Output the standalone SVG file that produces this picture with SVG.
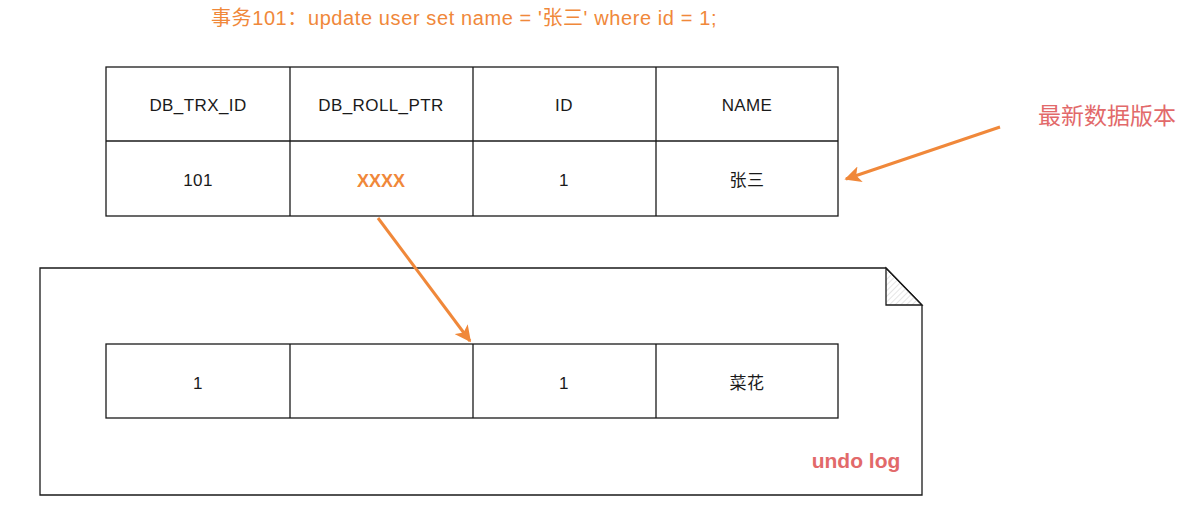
<svg xmlns="http://www.w3.org/2000/svg" width="1198" height="508" viewBox="0 0 1198 508">
<style>
.cell{fill:#fff;stroke:#1a1a1a;stroke-width:1.3}
.ln{stroke:#1a1a1a;stroke-width:1.3;fill:none}
.t{font-family:"Liberation Sans","Noto Sans CJK SC",sans-serif;font-size:17px;fill:#1a1a1a;text-anchor:middle;dominant-baseline:central;letter-spacing:0.4px}
.or{font-family:"Liberation Sans","Noto Sans CJK SC",sans-serif;fill:#f0883a}
.red{font-family:"Liberation Sans","Noto Sans CJK SC",sans-serif;fill:#e2696a}
.arr{stroke:#f0883a;stroke-width:3;fill:none}
</style>
<defs>
<marker id="ah" viewBox="0 0 10 10" refX="9" refY="5" markerWidth="5.5" markerHeight="5.5" orient="auto" markerUnits="strokeWidth">
<path d="M0,0 L10,5 L0,10 L2.5,5 Z" fill="#f0883a"/>
</marker>
<pattern id="hatch" width="4" height="4" patternUnits="userSpaceOnUse" patternTransform="rotate(45)">
<line x1="0" y1="0" x2="0" y2="4" stroke="#ccc" stroke-width="1"/>
</pattern>
</defs>
<g id="title">
<text class="or" x="464" y="25" font-size="20" letter-spacing="0.6" text-anchor="middle">事务101：update user set name = '张三' where id = 1;</text>
</g>
<g id="undo-log">
<path class="cell" d="M40,268 L886,268 L922,305 L922,495 L40,495 Z"/>
<path d="M886,268 L886,305 L922,305 Z" fill="url(#hatch)" stroke="#1a1a1a" stroke-width="1.3"/>
<text class="red" x="856" y="468" font-size="21" font-weight="bold" text-anchor="middle">undo log</text>
</g>
<g id="current-row">
<rect class="cell" x="106" y="67" width="732" height="149"/>
<line class="ln" x1="106" y1="141" x2="838" y2="141"/>
<line class="ln" x1="290" y1="67" x2="290" y2="216"/>
<line class="ln" x1="473" y1="67" x2="473" y2="216"/>
<line class="ln" x1="656" y1="67" x2="656" y2="216"/>
<text class="t" x="198" y="105">DB_TRX_ID</text>
<text class="t" x="381" y="105">DB_ROLL_PTR</text>
<text class="t" x="564" y="105">ID</text>
<text class="t" x="747" y="105">NAME</text>
<text class="t" x="198" y="180">101</text>
<text class="or" x="381" y="187" font-size="18" font-weight="bold" text-anchor="middle">XXXX</text>
<text class="t" x="564" y="180">1</text>
<text class="t" x="747" y="180">张三</text>
</g>
<g id="old-row">
<rect class="cell" x="106" y="344" width="732" height="74"/>
<line class="ln" x1="290" y1="344" x2="290" y2="418"/>
<line class="ln" x1="473" y1="344" x2="473" y2="418"/>
<line class="ln" x1="656" y1="344" x2="656" y2="418"/>
<text class="t" x="198" y="383">1</text>
<text class="t" x="564" y="383">1</text>
<text class="t" x="747" y="383">菜花</text>
</g>
<g id="label-latest">
<text class="red" x="1107" y="124" font-size="23" text-anchor="middle">最新数据版本</text>
</g>
<g id="connectors">
<line class="arr" x1="378" y1="218" x2="470" y2="341" marker-end="url(#ah)"/>
<line class="arr" x1="1000" y1="127" x2="846" y2="179" marker-end="url(#ah)"/>
</g>
</svg>
